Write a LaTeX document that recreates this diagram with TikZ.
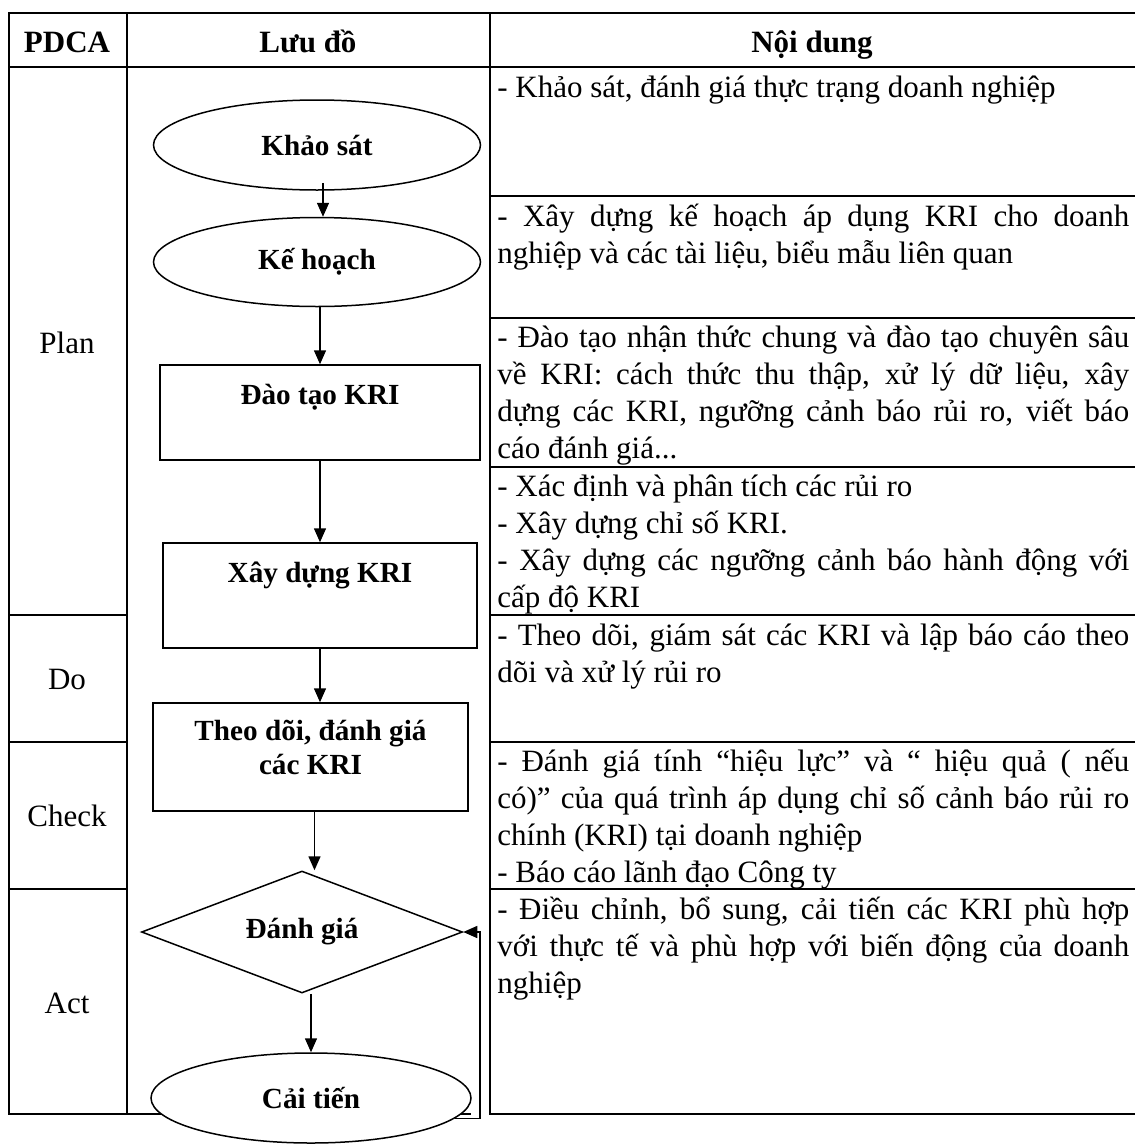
\documentclass[tikz,border=0pt]{standalone}
\usepackage{fontspec}
\setmainfont{Liberation Serif}
\usetikzlibrary{shapes.geometric,arrows.meta,calc}
\begin{document}
\hyphenpenalty=10000
\emergencystretch=3em
\begin{tikzpicture}[x=0.5pt,y=-0.5pt,
  tline/.style={line width=1pt, line cap=rect},
  shp/.style={draw, line width=0.75pt, fill=white, inner sep=0pt},
  lbl/.style={font=\fontsize{14.6}{17}\selectfont\bfseries, align=center, inner sep=0pt},
  oval/.style={shp, ellipse, lbl},
  box/.style={shp, rectangle},
  dec/.style={shp, diamond, lbl, aspect=2.6},
  hdr/.style={font=\fontsize{15.5}{17}\selectfont\bfseries, inner sep=0pt, anchor=base},
  phase/.style={font=\fontsize{15.5}{17}\selectfont, inner sep=0pt},
  body/.style={anchor=north west, inner sep=0pt, text width=316pt, align=justify,
     font=\fontsize{15.5}{18.5}\selectfont},
  arr/.style={line width=0.75pt, -{Triangle[length=7pt,width=6pt]}}
]
\useasboundingbox (0,0) rectangle (1135,1146);

% table lines
\draw[tline] (9,13) -- (1135,13);
\draw[tline] (9,67) -- (1135,67);
\draw[tline] (9,13) -- (9,1114);
\draw[tline] (127,13) -- (127,1114);
\draw[tline] (490,13) -- (490,1114);
\draw[tline] (9,1114) -- (470,1114);
\draw[tline] (490,1114) -- (1135,1114);
\foreach \yy in {615,742,889} \draw[tline] (9,\yy) -- (127,\yy);
\foreach \yy in {196,318,467,615,742,889} \draw[tline] (490,\yy) -- (1135,\yy);

% header
\node[hdr] (h1) at (67,52) {PDCA};
\node[hdr] (h2) at (308,52) {Lưu đồ};
\node[hdr] (h3) at (812,52) {Nội dung};

% phases
\node[phase] (pplan) at (67,343) {Plan};
\node[phase] (pdo) at (67,679) {Do};
\node[phase] (pcheck) at (67,816) {Check};
\node[phase] (pact) at (67,1003) {Act};

% flowchart
\node[oval, minimum width=163.5pt, minimum height=45pt] (ks) at (317,145) {Khảo sát};
\node[oval, minimum width=163.5pt, minimum height=44.5pt] (kh) at (317,262) {Kế hoạch};
\node[box, minimum width=160pt, minimum height=47.5pt] (dt) at (320,412.5) {};
\node[lbl] (dtt) at (320,397) {Đào tạo KRI};
\node[box, minimum width=157pt, minimum height=52.5pt] (xd) at (320,595.5) {};
\node[lbl] (xdt) at (320,575) {Xây dựng KRI};
\node[box, minimum width=157.5pt, minimum height=54pt] (td) at (310.5,757) {};
\node[lbl] (tdt) at (310.5,747.5) {Theo dõi, đánh giá\\các KRI};
\node[dec, minimum width=160.5pt, minimum height=61pt] (dg) at (302,932) {Đánh giá};
\node[oval, minimum width=160pt, minimum height=45pt] (ct) at (311,1098) {Cải tiến};

\draw[arr] ([xshift=3pt,yshift=4pt]ks.south) -- ([xshift=3pt]kh.north);
\draw[arr] (kh.south -| dt.north) -- (dt.north);
\draw[arr] (dt.south) -- (xd.north);
\draw[arr] (xd.south) -- (xd.south |- td.north);
\draw[arr] ([xshift=2pt]td.south) -- ([xshift=2pt]td.south |- dg.north);
\draw[arr] (ct.north |- dg.south) -- (ct.north);
\coordinate (fb) at (480,1116);
\draw[arr] (ct.-8) -- (ct.-8 -| fb) |- (dg.east);

% contents
\node[body] (c1) at (497,71) {\strut- Khảo sát, đánh giá thực trạng doanh nghiệp};
\node[body] (c2) at (497,200) {\strut- Xây dựng kế hoạch áp dụng KRI cho doanh\linebreak nghiệp và các tài liệu, biểu mẫu liên quan};
\node[body] (c3) at (497,321) {\strut- Đào tạo nhận thức chung và đào tạo chuyên sâu\linebreak về KRI: cách thức thu thập, xử lý dữ liệu, xây\linebreak dựng các KRI, ngưỡng cảnh báo rủi ro, viết báo\linebreak cáo đánh giá...};
\node[body] (c4) at (497,470) {\strut- Xác định và phân tích các rủi ro\\- Xây dựng chỉ số KRI.\\- Xây dựng các ngưỡng cảnh báo hành động với\linebreak cấp độ KRI};
\node[body] (c5) at (497,619) {\strut- Theo dõi, giám sát các KRI và lập báo cáo theo\linebreak dõi và xử lý rủi ro};
\node[body] (c6) at (497,745) {\strut- Đánh giá tính “hiệu lực” và “ hiệu quả ( nếu\linebreak có)” của quá trình áp dụng chỉ số cảnh báo rủi ro\linebreak chính (KRI) tại doanh nghiệp\\- Báo cáo lãnh đạo Công ty};
\node[body] (c7) at (497,893) {\strut- Điều chỉnh, bổ sung, cải tiến các KRI phù hợp\linebreak với thực tế và phù hợp với biến động của doanh\linebreak nghiệp};
\end{tikzpicture}
\end{document}
